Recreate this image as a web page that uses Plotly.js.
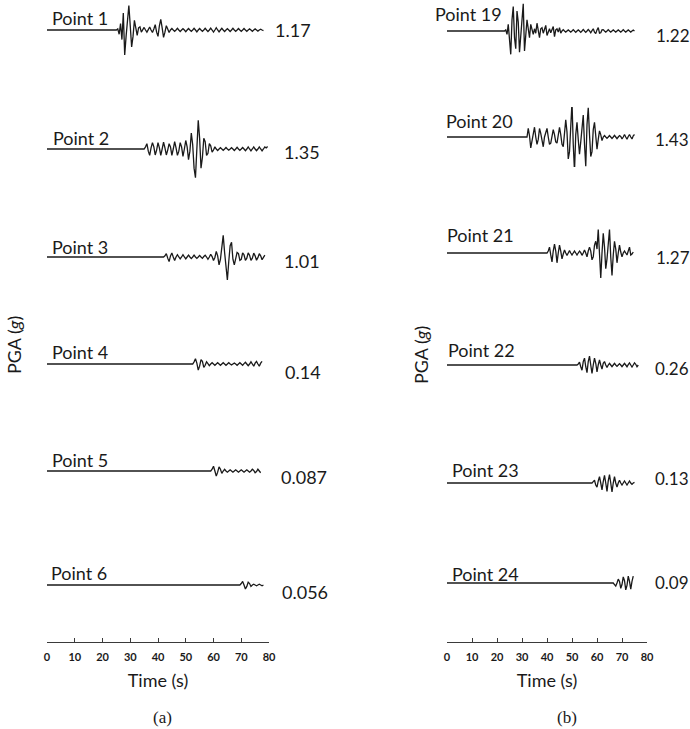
<!DOCTYPE html>
<html>
<head>
<meta charset="utf-8">
<script src="https://cdn.plot.ly/plotly-3.0.1.min.js"></script>
<style>
  html, body { margin: 0; padding: 0; background: #ffffff; }
  #chart { width: 690px; height: 729px; }
</style>
</head>
<body>
<div id="chart"></div>
<script>
// ---------------- DATA ----------------
// sampling step of the digitised records (s); each record is zero before its onset
const dt = 0.5;

// Panel (a)
const namesA = ['Point 1', 'Point 2', 'Point 3', 'Point 4', 'Point 5', 'Point 6'];
const pgaA = ['1.17', '1.35', '1.01', '0.14', '0.087', '0.056'];
const onsetA = [25, 35, 42, 52.5, 59, 69.5];

const accP1 = [0, 0.05, -0.2, 0.3, -0.45, 0.8, -1.17, -0.3, 0.6, 1.15, 0.2, -0.8, -0.3, 0.45, 0.1, -0.25, 0.1, 0.15, -0.1,
  0, 0.12, 0, -0.1, 0.02, 0.14, 0, -0.12,
  0.05, 0.25, -0.1, -0.3, 0.2, 0.5, 0.1, -0.35, -0.1, 0.2, 0.05, -0.12,
  0, 0.07, 0, -0.06, 0, 0.08, 0, -0.07, 0, 0.06, 0, -0.08, 0, 0.07, 0, -0.06, 0, 0.08, 0, -0.09,
  0, 0.07, 0, -0.06, 0, 0.08, 0, -0.07, 0, 0.09, 0, -0.1, 0, 0.11, 0, -0.09, 0, 0.08, 0, -0.07,
  0, 0.06, 0, -0.07, 0, 0.08, 0, -0.06, 0, 0.07, 0, -0.06, 0, 0.07, 0, -0.06, 0, 0.05, 0, -0.06,
  0, 0.05, 0, -0.05, 0, 0.04, 0, -0.03];

const accP2 = [0, 0.1, 0.25, -0.1, -0.3, 0.05, 0.3, 0.1, -0.28, -0.05, 0.3, 0.05, -0.3, 0, 0.32, 0.05, -0.28, -0.05,
  0.25, 0.1, -0.3, 0, 0.35, 0.05, -0.3, -0.1, 0.3, 0.1, -0.35, 0, 0.4, 0.1, -0.5, -0.1, 0.75, 0.2, -0.9, -1.35,
  0.3, 1.35, 0.5, -0.9, -0.4, 0.5, 0.35, -0.3, -0.2, 0.25, 0.15, -0.15, -0.05, 0.1, 0, -0.07, 0, 0.06,
  0, -0.06, 0, 0.07, 0, -0.05, 0, 0.06, 0, -0.07, 0, 0.08, 0, -0.06, 0, 0.07, 0, -0.08, 0, 0.1,
  0, -0.09, 0, 0.1, 0, -0.08, 0, 0.1, 0, -0.09, 0, 0.1, 0.05, 0.12];

const accP3 = [0, 0.05, 0.15, -0.05, -0.2, 0.05, 0.18, 0, -0.15, 0, 0.1, 0, -0.08, 0, 0.1, 0, -0.08, 0, 0.08, 0,
  -0.07, 0, 0.08, 0, -0.06, 0, 0.07, 0, -0.06, 0.02, 0.08, 0, -0.1, 0, 0.12, 0.02, -0.15, -0.02, 0.25, 0.05,
  -0.35, -0.1, 0.5, 0.95, 0.2, -0.6, -1.01, -0.2, 0.5, 0.65, -0.1, -0.35, -0.1, 0.2, 0.15, -0.15, -0.1, 0.18,
  0.1, -0.15, -0.05, 0.18, 0.08, -0.15, -0.05, 0.17, 0.05, -0.14, -0.03, 0.15, 0.05, -0.12, -0.02, 0.08];

const accP4 = [0, 0.05, 0.12, 0.02, -0.14, -0.05, 0.1, 0.06, -0.08, -0.03, 0.05, 0.01, -0.04, 0, 0.03, 0, -0.03,
  0, 0.03, 0, -0.03, 0, 0.03, 0, -0.03, 0, 0.03, 0, -0.02, 0, 0.02, 0, -0.03, 0, 0.03, 0, -0.03, 0.01, 0.04,
  0, -0.04, 0, 0.05, 0, -0.05, 0.02, 0.06, 0, -0.05, 0.02, 0.06];

const accP5 = [0, 0.03, 0.08, 0, -0.087, -0.02, 0.07, 0.03, -0.04, 0, 0.03, 0, -0.02, 0, 0.02, 0, -0.02, 0, 0.02,
  0, -0.02, 0, 0.02, 0, -0.02, 0, 0.02, 0, -0.02, 0, 0.03, 0.01, -0.03, -0.01, 0.03, 0, -0.03];

const accP6 = [0, 0.02, 0.05, 0, -0.056, -0.02, 0.04, 0.02, -0.02, 0, 0.01, 0, -0.01, 0, 0.01, 0, -0.01, 0];

// Panel (b)
const namesB = ['Point 19', 'Point 20', 'Point 21', 'Point 22', 'Point 23', 'Point 24'];
const pgaB = ['1.22', '1.43', '1.27', '0.26', '0.13', '0.09'];
const onsetB = [23, 32, 40, 52, 58, 66.5];

const accP19 = [0, 0.05, -0.15, 0.3, -0.6, -1.05, 0.5, 1.1, -0.3, -0.8, 0.9, 0.4, -0.95, -0.2, 0.7, 1.22, -0.9, -0.3,
  0.5, 0.1, -0.3, 0.3, 0.1, -0.15, 0.1, -0.1, 0.35, -0.1, -0.3, 0.1, 0.15, -0.1, 0.05, 0.25, -0.2, -0.05,
  0.1, -0.08, 0.05, 0.2, -0.25, 0.05, 0.1, -0.05, 0.15, -0.1, 0, 0.06, 0, -0.05, 0, 0.05, 0, -0.05, 0, 0.06,
  0, -0.06, 0, 0.05, 0, -0.06, 0, 0.07, 0, -0.06, 0, 0.07, 0, -0.08, 0.02, 0.1, -0.05, -0.12, 0.05, 0.15,
  -0.1, -0.08, 0.05, 0.06, 0, -0.05, 0, 0.06, 0, -0.05, 0, 0.05, 0, -0.05, 0, 0.05, 0, -0.05, 0, 0.06,
  0, -0.05, 0, 0.05, 0, -0.05, 0, 0.04, 0];

const accP20 = [0, 0.35, 0.05, -0.45, -0.1, 0.2, 0.4, 0, -0.3, -0.1, 0.35, 0.15, -0.2, -0.4, 0, 0.2, 0.35, 0,
  -0.3, -0.25, 0.1, 0.3, 0.1, -0.2, -0.25, 0.1, 0.4, 0.1, -0.3, -0.4, 0.2, 0.7, 0.2, -0.9, -0.6, 0.7, 1.43,
  -0.3, -1.4, 0.1, 0.6, -0.1, -0.7, -0.2, 0.5, 0.9, -0.3, -1.2, 0.5, 1.2, 0.1, -0.8, -0.6, 0.3, 0.6, 0.1,
  -0.5, -0.1, 0.25, 0.1, -0.15, 0, 0.06, 0, -0.05, 0, 0.06, 0, -0.06, 0, 0.07, 0, -0.07, 0, 0.06, 0.02,
  -0.08, 0, 0.1, 0, -0.09, 0.02, 0.1, 0, -0.08, 0.05, 0.1];

const accP21 = [0, 0.1, 0.3, -0.1, -0.45, 0.1, 0.45, 0.1, -0.5, 0, 0.4, 0.1, -0.3, -0.05, 0.15, 0, -0.12, 0, 0.12,
  0, -0.1, 0, 0.1, 0, -0.1, 0, 0.1, 0.02, -0.12, 0, 0.15, 0, -0.2, 0.1, 0.3, 0.1, -0.35, -0.2, 0.4, 0.6, 0.2,
  1.2, -0.3, -1.27, 0, 1.0, 0.3, -0.8, -0.3, 0.5, 1.2, -0.2, -1.15, -0.1, 0.6, 0.2, -0.5, 0, 0.4, 0.05, -0.2,
  0, 0.1, 0, -0.1, 0.1, 0.3, -0.1, -0.05, 0.05];

const accP22 = [0, 0.03, 0.08, -0.05, -0.15, 0.1, 0.2, -0.05, -0.22, 0.1, 0.26, 0, -0.24, 0, 0.2, 0.05, -0.2, 0,
  0.15, 0, -0.12, 0.05, 0.1, 0, -0.07, 0, 0.05, 0, -0.05, 0, 0.05, 0, -0.04, 0, 0.04, 0, -0.05, 0, 0.05, 0,
  -0.05, 0.01, 0.06, 0, -0.06, 0, 0.06, 0.02, -0.05, 0];

const accP23 = [0, 0.02, 0.04, -0.03, -0.06, 0.03, 0.09, 0, -0.1, 0.02, 0.11, 0, -0.12, 0.03, 0.12, 0, -0.13, 0,
  0.09, 0, -0.06, 0, 0.04, 0, -0.03, 0, 0.03, 0, -0.03, 0, 0.03, 0, -0.02, 0, 0.01];

const accP24 = [0, -0.02, -0.04, 0, 0.05, 0.02, -0.07, -0.02, 0.08, 0.03, -0.09, -0.03, 0.09, 0.02, -0.08, 0.02, 0.09];

// ---------------- STYLE / LAYOUT CONSTANTS ----------------
const W = 690, H = 729, PLOT_BOTTOM = 642;   // pixel row of the time axes
const HALF = 30;                             // half-height (px) of each trace strip
const lineColor = '#1a1a1a';
const textColor = '#1a1a1a';
const sans = 'Lato, "Open Sans", "DejaVu Sans", sans-serif';
const labelSize = 18;

const panels = [
  { axis: 'x', dom: [47, 269], records: [accP1, accP2, accP3, accP4, accP5, accP6], onset: onsetA,
    names: namesA, pga: pgaA, valSize: 18,
    base: [30, 149, 257, 364, 471, 585], gpp: [0.047, 0.047, 0.044, 0.023, 0.017, 0.014],
    nameX: [50, 51, 50, 50, 50, 49], nameY: [16, 136, 245, 350, 458, 571],
    valX: [273, 282, 282, 283, 279, 280], valY: [29, 150, 259, 370, 475, 590],
    yLab: [14, 345], tag: '(a)', tagX: 162 },
  { axis: 'x2', dom: [447, 647], records: [accP19, accP20, accP21, accP22, accP23, accP24], onset: onsetB,
    names: namesB, pga: pgaB, valSize: 17,
    base: [31, 137, 253, 365, 483, 583], gpp: [0.045, 0.041, 0.051, 0.029, 0.0144, 0.013],
    nameX: [433, 444, 445, 446, 450, 450], nameY: [12, 119, 233, 349, 468, 572],
    valX: [654, 653, 654, 653, 653, 653], valY: [34, 138, 256, 367, 477, 581],
    yLab: [421, 355], tag: '(b)', tagX: 567 }
];

const px2x = px => px / W;
const py2y = py => (PLOT_BOTTOM - py) / PLOT_BOTTOM;

const traces = [];
const annotations = [];
const layout = {
  width: W, height: H,
  margin: { l: 0, r: 0, t: 0, b: H - PLOT_BOTTOM, pad: 0 },
  paper_bgcolor: '#ffffff', plot_bgcolor: 'rgba(0,0,0,0)',
  showlegend: false,
  font: { family: sans, color: textColor },
  annotations: annotations
};

let k = 0;
panels.forEach((p, pi) => {
  const axKey = pi === 0 ? 'xaxis' : 'xaxis2';
  layout[axKey] = {
    domain: [px2x(p.dom[0]), px2x(p.dom[1])],
    range: [0, 80], anchor: 'free', position: 0,
    showline: true, linecolor: '#3a3a3a', linewidth: 1,
    ticks: 'inside', ticklen: 4, tickcolor: '#3a3a3a', tickwidth: 1,
    tick0: 0, dtick: 10, showgrid: false, zeroline: false,
    tickfont: { family: sans, size: 11, color: textColor, weight: 'bold' },
    ticklabelstandoff: 5,
    automargin: false, fixedrange: true,
    title: { text: 'Time (s)', font: { family: sans, size: labelSize, color: textColor }, standoff: 12 }
  };

  p.records.forEach((rec, i) => {
    k += 1;
    const yKey = k === 1 ? 'yaxis' : 'yaxis' + k;
    const yRef = k === 1 ? 'y' : 'y' + k;
    const t = [0].concat(rec.map((_, j) => p.onset[i] + j * dt));
    const a = [0].concat(rec);
    traces.push({
      type: 'scatter', mode: 'lines', x: t, y: a,
      xaxis: p.axis, yaxis: yRef,
      line: { color: lineColor, width: 1.3 },
      hoverinfo: 'skip'
    });
    const lo = Math.max(0, py2y(p.base[i] + HALF));
    const hi = Math.min(1, py2y(p.base[i] - HALF));
    const A = p.gpp[i] * HALF;
    layout[yKey] = {
      domain: [lo, hi], range: [-A, A], anchor: p.axis,
      visible: false, fixedrange: true
    };
    annotations.push({
      xref: 'paper', yref: 'paper', x: px2x(p.nameX[i]), y: py2y(p.nameY[i] + 1.5),
      xanchor: 'left', yanchor: 'middle', showarrow: false,
      text: p.names[i], font: { family: sans, size: labelSize, color: textColor }
    });
    annotations.push({
      xref: 'paper', yref: 'paper', x: px2x(p.valX[i]), y: py2y(p.valY[i] + 1.5),
      xanchor: 'left', yanchor: 'middle', showarrow: false,
      text: p.pga[i], font: { family: sans, size: p.valSize, color: textColor }
    });
  });

  annotations.push({
    xref: 'paper', yref: 'paper', x: px2x(p.yLab[0]), y: py2y(p.yLab[1]),
    xanchor: 'center', yanchor: 'middle', showarrow: false, textangle: -90,
    text: 'PGA (<i>g</i>)', font: { family: sans, size: labelSize, color: textColor }
  });
  annotations.push({
    xref: 'paper', yref: 'paper', x: px2x(p.tagX), y: py2y(717),
    xanchor: 'center', yanchor: 'middle', showarrow: false,
    text: p.tag, font: { family: '"Liberation Serif", "DejaVu Serif", serif', size: 17, color: textColor }
  });
});

Plotly.newPlot('chart', traces, layout, { staticPlot: true, displayModeBar: false });
</script>
</body>
</html>
